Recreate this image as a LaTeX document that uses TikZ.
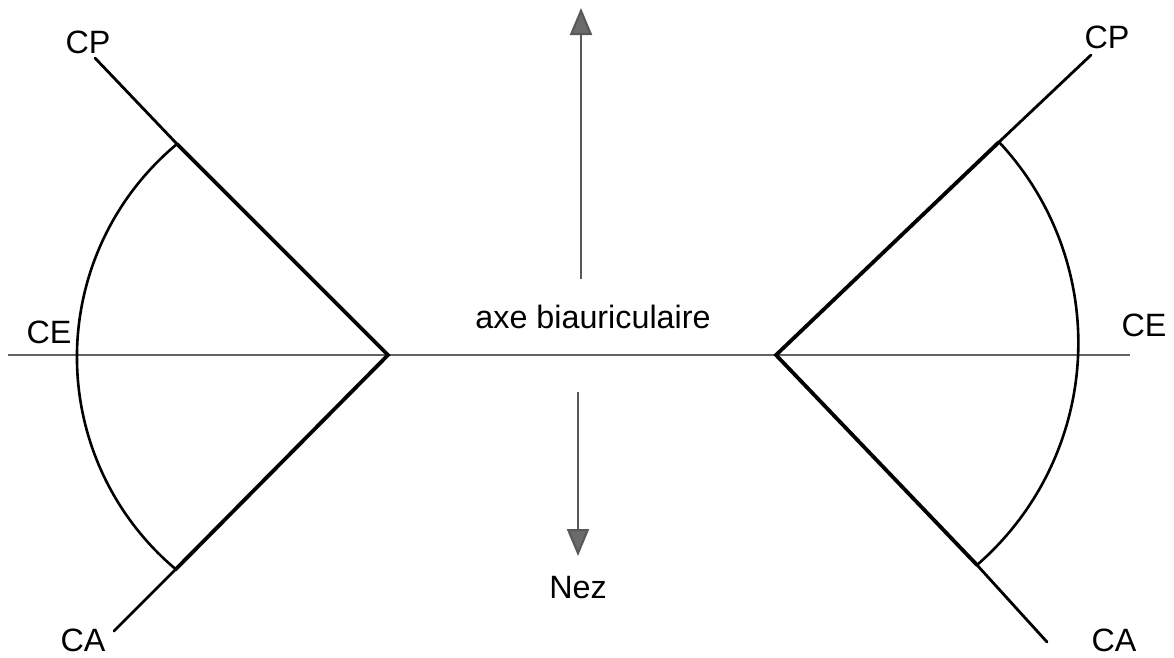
\documentclass[tikz,border=0pt]{standalone}
\usepackage{fontspec}
\setmainfont{Liberation Sans}
\usetikzlibrary{arrows.meta}
\tikzset{
  lbl/.style={inner sep=0pt, font=\fontsize{32.3}{38}\selectfont},
  thickarm/.style={line width=3.8pt, line join=miter, miter limit=10},
  thinarm/.style={line width=2.8pt, line cap=round},
  arcline/.style={line width=2.6pt},
  axisline/.style={draw=black!62, line width=2pt},
  vecline/.style={draw=black!65, line width=2.2pt,
    -{Triangle[length=27pt,width=22pt,fill=black!58]}}
}
\begin{document}
\begin{tikzpicture}[x=1pt,y=-1pt]
\useasboundingbox (0,0) rectangle (1174,657);
% coordinates
\coordinate (vL) at (388,355);
\coordinate (mUL) at (177,144);
\coordinate (eUL) at (95,58);
\coordinate (mLL) at (175,570);
\coordinate (eLL) at (114,631);
\coordinate (vR) at (776,355);
\coordinate (mUR) at (999,142);
\coordinate (eUR) at (1091,55);
\coordinate (mLR) at (977,565);
\coordinate (eLR) at (1047,642);
\coordinate (axL) at (8,355);
\coordinate (axR) at (1130,355);
\coordinate (upS) at (581,279);
\coordinate (upT) at (581,8);
\coordinate (dnS) at (578,392);
\coordinate (dnT) at (578,556);
% axis
\draw[axisline] (axL) -- (axR);
% left wedge
\draw[thickarm] (mUL) -- (vL) -- (mLL);
\draw[thinarm] (mUL) -- (eUL);
\draw[thinarm] (mLL) -- (eLL);
\draw[arcline] (mUL) arc[start angle=230.3, end angle=130, radius=277];
% right wedge
\draw[thickarm] (mUR) -- (vR) -- (mLR);
\draw[thinarm] (mUR) -- (eUR);
\draw[thinarm] (mLR) -- (eLR);
\draw[arcline] (mUR) arc[start angle=-43.1, end angle=49, radius=294];
% vertical arrows
\draw[vecline] (upS) -- (upT);
\draw[vecline] (dnS) -- (dnT);
% labels
\node[lbl] (cpL) at (88,42) {CP};
\node[lbl] (ceL) at (49,332) {CE};
\node[lbl] (caL) at (83,640) {CA};
\node[lbl] (cpR) at (1107,37) {CP};
\node[lbl] (ceR) at (1144,325) {CE};
\node[lbl] (caR) at (1114,640) {CA};
\node[lbl] (axe) at (593,317) {axe biauriculaire};
\node[lbl] (nez) at (578,588) {Nez};
\end{tikzpicture}
\end{document}
